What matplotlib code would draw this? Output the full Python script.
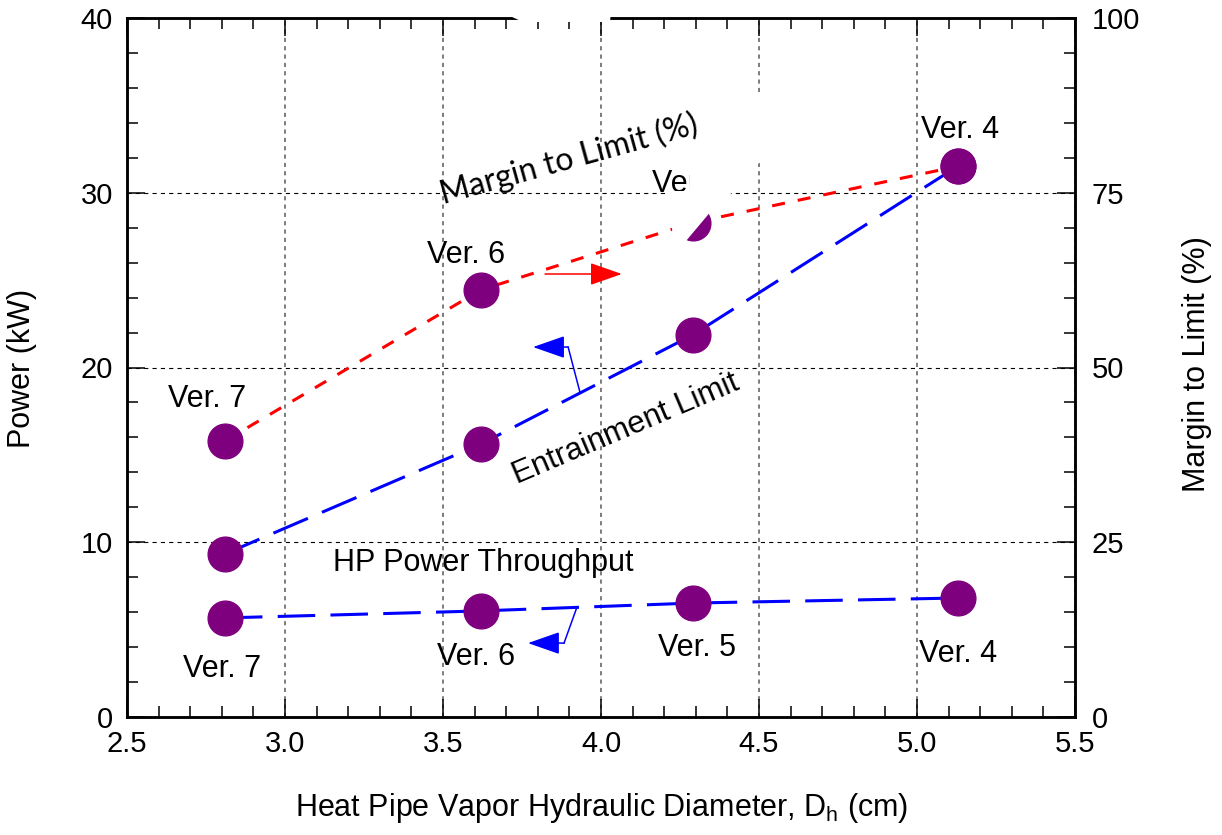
import matplotlib
matplotlib.use('Agg')
import matplotlib.pyplot as plt
from matplotlib.ticker import MultipleLocator
from matplotlib.patches import Polygon

plt.rcParams['font.family'] = ['Liberation Sans', 'DejaVu Sans']
plt.rcParams['mathtext.default'] = 'regular'
plt.rcParams['lines.scale_dashes'] = False

# values
versions = ['Ver. 7', 'Ver. 6', 'Ver. 5', 'Ver. 4']
diameter = [2.81, 3.62, 4.29, 5.13]      # cm
hp_power = [5.67, 6.07, 6.52, 6.81]      # kW
entrain = [9.33, 15.62, 21.86, 31.53]    # kW
margin = [39.5, 61.1, 70.7, 78.8]        # %

x_ticks = [2.5, 3.0, 3.5, 4.0, 4.5, 5.0, 5.5]
power_ticks = [0, 10, 20, 30, 40]
margin_ticks = [0, 25, 50, 75, 100]

W, H = 1222, 835
def px(x, y):
    return (x / W, 1 - y / H)

purple = '#7F007F'
blue = '#0000FF'
red = '#FF0000'

fig = plt.figure(figsize=(W / 100, H / 100), dpi=100)
ax = fig.add_axes([127 / W, 1 - 717 / H, 948 / W, 699 / H])
ax2 = ax.twinx()

ax.set_xlim(2.5, 5.5)
ax.set_ylim(0, 40)
ax2.set_ylim(0, 100)
ax.set_xticks(x_ticks)
ax.set_xticklabels(['%.1f' % v for v in x_ticks])
ax.set_yticks(power_ticks)
ax2.set_yticks(margin_ticks)
ax.xaxis.set_minor_locator(MultipleLocator(0.1))
ax.yaxis.set_minor_locator(MultipleLocator(2))
ax2.yaxis.set_minor_locator(MultipleLocator(5))

for a in (ax, ax2):
    a.tick_params(which='both', direction='in', width=1.1, labelsize=21)
    a.tick_params(which='major', length=13)
    a.tick_params(which='minor', length=8)
    for s in a.spines.values():
        s.set_linewidth(1.8)
ax.tick_params(which='both', top=True)
ax.tick_params(axis='y', pad=10)
ax.tick_params(axis='x', pad=9)
ax2.tick_params(axis='y', pad=12)

ax.grid(axis='x', which='major', color='#666666', ls=(0, (3, 3)), lw=1.2)
ax.grid(axis='y', which='major', color='black', ls=(0, (3, 3)), lw=0.8)

# lines
ax.plot(diameter, hp_power, color=blue, lw=2.2, ls=(0, (27, 11)), zorder=3)
ax.plot(diameter, entrain, color=blue, lw=2.2, ls=(0, (27, 11)), zorder=3)
ax2.plot(diameter, margin, color=red, lw=2.2, ls=(0, (9.4, 9.4)), zorder=3)

# markers
ax.plot(diameter, hp_power, 'o', color=purple, ms=25, mec=purple, zorder=4)
ax.plot(diameter, entrain, 'o', color=purple, ms=25, mec=purple, zorder=4)
ax2.plot(diameter, margin, 'o', color=purple, ms=25, mec=purple, zorder=4)

# version labels
top_off = [(-13, 24.5), (-11, 19.5), (-1.5, 22), (1.5, 20)]
bot_off = [(-2, -42.5), (-3.5, -39), (3, -38), (0, -46)]
for i, v in enumerate(versions):
    ax2.annotate(v, (diameter[i], margin[i]), xytext=top_off[i], textcoords='offset points',
                 ha='center', va='baseline', fontsize=22, zorder=5)
    ax.annotate(v, (diameter[i], hp_power[i]), xytext=bot_off[i], textcoords='offset points',
                ha='center', va='baseline', fontsize=22, zorder=5)

# arrows pointing to the axis each curve uses
akw = dict(arrowstyle='-|>,head_length=1.0,head_width=0.35', mutation_scale=20,
           lw=1.1, shrinkA=0, shrinkB=0)
ax.annotate('', xy=(4.066, 25.35), xytext=(3.823, 25.35), arrowprops=dict(color=red, **akw))
ax.plot([3.934, 3.896], [18.54, 21.17], color=blue, lw=1.1)
ax.annotate('', xy=(3.785, 21.17), xytext=(3.896, 21.17), arrowprops=dict(color=blue, **akw))
ax.plot([3.924, 3.883], [6.29, 4.23], color=blue, lw=1.1)
ax.annotate('', xy=(3.769, 4.23), xytext=(3.883, 4.23), arrowprops=dict(color=blue, **akw))

# curve names
ax.text(3.627, 8.35, 'HP Power Throughput', ha='center', va='baseline', fontsize=22, zorder=5)
ax.text(4.08, 16.45, 'Entrainment Limit', ha='center', va='center', rotation=23,
        rotation_mode='anchor', fontsize=22.5, family=['Liberation Sans'], zorder=5)
ax2.text(3.9, 79.8, 'Margin to Limit (%)', ha='center', va='center', rotation=15.5,
         rotation_mode='anchor', fontsize=23, family=['Lato', 'DejaVu Sans'], zorder=6)

# axis titles
fig.text(602 / W, 1 - 816 / H, 'Heat Pipe Vapor Hydraulic Diameter, D$_h$ (cm)',
         ha='center', va='baseline', fontsize=22)
fig.text(22 / W, 1 - 368 / H, 'Power (kW)', rotation=90, ha='center', va='center', fontsize=22)
fig.text(1197 / W, 1 - 364 / H, 'Margin to Limit (%)', rotation=90, ha='center', va='center',
         fontsize=22)

# white blotches present in the original image
blot_a = [px(510, 0), px(612, 0), px(610, 22), px(523, 22), px(510, 16)]
blot_b = [px(714, 96), px(792, 96), px(792, 150), px(759, 163), px(735, 190), px(712, 210),
          px(686, 241), px(674, 244), px(667, 191), px(689, 191), px(690, 162), px(714, 150)]
for pts in (blot_a, blot_b):
    fig.add_artist(Polygon(pts, closed=True, transform=fig.transFigure,
                           facecolor='white', edgecolor='none', zorder=1))

fig.savefig('out.png', dpi=100)
